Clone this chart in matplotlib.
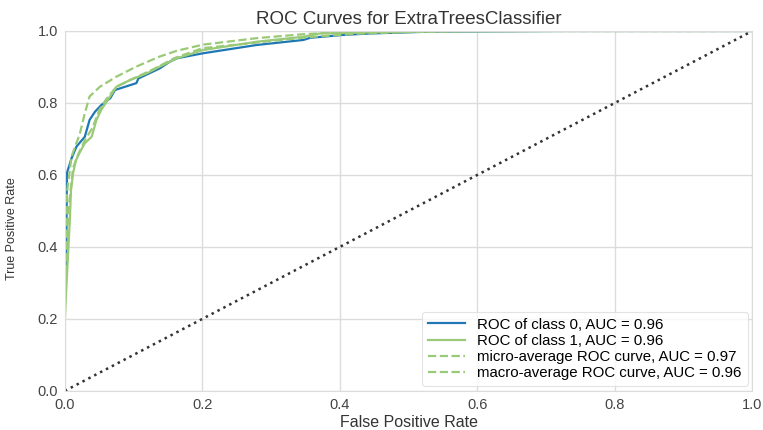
import matplotlib

matplotlib.use("Agg")
import matplotlib.pyplot as plt

plt.rcParams["font.family"] = ["Liberation Sans", "DejaVu Sans"]

# ROC points (fpr, tpr)
class0_fpr = [0.0, 0.0, 0.002, 0.003, 0.0097, 0.017, 0.029, 0.036, 0.044, 0.053, 0.066, 0.073,
              0.104, 0.107, 0.138, 0.153, 0.163, 0.201, 0.279, 0.347, 0.357, 0.405, 0.444, 0.53, 0.72, 1.0]
class0_tpr = [0.0, 0.31, 0.345, 0.605, 0.646, 0.679, 0.706, 0.753, 0.776, 0.794, 0.813, 0.836,
              0.855, 0.868, 0.896, 0.915, 0.924, 0.938, 0.961, 0.975, 0.981, 0.989, 0.993, 0.998, 1.0, 1.0]

class1_fpr = [0.0, 0.0, 0.002, 0.007, 0.009, 0.012, 0.016, 0.021, 0.029, 0.039, 0.046, 0.053,
              0.061, 0.075, 0.095, 0.119, 0.138, 0.163, 0.201, 0.279, 0.347, 0.371, 0.444, 0.55, 0.72, 1.0]
class1_tpr = [0.0, 0.2, 0.28, 0.466, 0.558, 0.605, 0.64, 0.66, 0.688, 0.706, 0.753, 0.781,
              0.804, 0.845, 0.864, 0.882, 0.901, 0.924, 0.947, 0.970, 0.984, 0.993, 0.996, 0.999, 1.0, 1.0]

micro_fpr = [0.0, 0.0, 0.003, 0.0097, 0.022, 0.029, 0.036, 0.051, 0.075, 0.104, 0.138, 0.163,
             0.201, 0.279, 0.347, 0.405, 0.5, 1.0]
micro_tpr = [0.0, 0.3, 0.55, 0.651, 0.716, 0.771, 0.818, 0.845, 0.873, 0.901, 0.929, 0.945,
             0.962, 0.980, 0.991, 0.997, 1.0, 1.0]

macro_fpr = [0.0, 0.0, 0.005, 0.012, 0.02, 0.03, 0.04, 0.05, 0.06, 0.075, 0.1, 0.13, 0.16,
             0.2, 0.28, 0.35, 0.42, 0.5, 0.6, 1.0]
macro_tpr = [0.0, 0.25, 0.5, 0.62, 0.66, 0.7, 0.73, 0.78, 0.81, 0.845, 0.868, 0.895, 0.925,
             0.952, 0.968, 0.982, 0.992, 0.997, 1.0, 1.0]

labels = [
    "ROC of class 0, AUC = 0.96",
    "ROC of class 1, AUC = 0.96",
    "micro-average ROC curve, AUC = 0.97",
    "macro-average ROC curve, AUC = 0.96",
]

BLUE = "#1f78b4"
GREEN = "#9aca78"
GRID = "#dcdcdc"

fig = plt.figure(figsize=(7.63, 4.30), dpi=100)
ax = fig.add_axes([0.085, 0.091, 0.901, 0.837])

ax.plot(class0_fpr, class0_tpr, color=BLUE, lw=1.6, label=labels[0])
ax.plot(class1_fpr, class1_tpr, color=GREEN, lw=1.6, label=labels[1])
ax.plot(micro_fpr, micro_tpr, color=GREEN, lw=1.6, ls="--", label=labels[2])
ax.plot(macro_fpr, macro_tpr, color=GREEN, lw=1.6, ls="--", label=labels[3])
ax.plot([0, 1], [0, 1], color="#333333", lw=1.8, ls=":")

ax.set_xlim(0, 1)
ax.set_ylim(0, 1)
ax.set_xticks([0.0, 0.2, 0.4, 0.6, 0.8, 1.0])
ax.set_yticks([0.0, 0.2, 0.4, 0.6, 0.8, 1.0])
ax.grid(True, color=GRID, lw=1)
ax.set_axisbelow(True)
for spine in ax.spines.values():
    spine.set_color(GRID)
ax.tick_params(length=0, labelsize=10.5, colors="#444444", pad=5)

ax.set_title("ROC Curves for ExtraTreesClassifier", fontsize=13.5, color="#333333", pad=5)
ax.set_xlabel("False Positive Rate", fontsize=11.5, color="#333333", labelpad=2)
ax.set_ylabel("True Positive Rate", fontsize=9, color="#333333")
ax.yaxis.set_label_coords(-0.068, 0.45)

leg = ax.legend(loc="lower right", fontsize=10.8, frameon=True, fancybox=True,
                edgecolor=GRID, handlelength=2.5, borderpad=0.4, labelspacing=0.15,
                borderaxespad=0.3)
leg.get_frame().set_linewidth(0.8)

fig.savefig("out.png", dpi=100)
